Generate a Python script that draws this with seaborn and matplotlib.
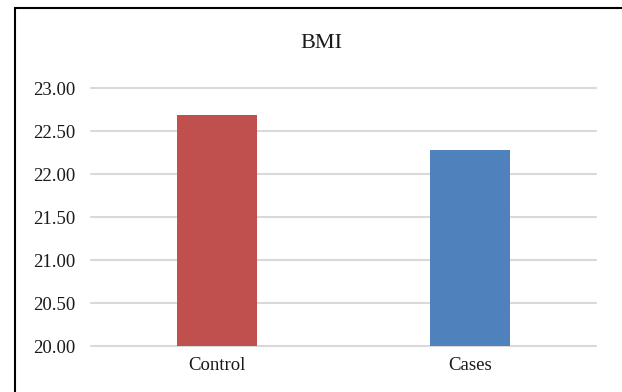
import matplotlib
matplotlib.use("Agg")
import matplotlib.pyplot as plt
import seaborn as sns
import pandas as pd
from matplotlib.patches import Rectangle

# data
groups = ["Control", "Cases"]
bmi = [22.69, 22.28]
bar_colors = ["#C0504D", "#4F81BD"]
y_ticks = [20.0, 20.5, 21.0, 21.5, 22.0, 22.5, 23.0]

sns.set_style("white")
plt.rcParams["font.family"] = ["Liberation Serif", "DejaVu Serif"]

df = pd.DataFrame({"group": groups, "bmi": bmi})

fig = plt.figure(figsize=(6.22, 3.92), dpi=100)
ax = fig.add_axes([0.1463, 0.1173, 0.8119, 0.6582])

sns.barplot(data=df, x="group", y="bmi", hue="group", palette=bar_colors,
            width=0.317, legend=False, saturation=1, linewidth=0, ax=ax, zorder=3)

ax.set_ylim(20, 23)
ax.set_yticks(y_ticks)
ax.set_yticklabels([f"{t:.2f}" for t in y_ticks])
ax.yaxis.grid(True, color="#D9D9D9", linewidth=1.5, zorder=0)
for gl in ax.get_ygridlines():
    gl.set_clip_on(False)
ax.set_axisbelow(True)
ax.set_xlabel("")
ax.set_ylabel("")
for s in ax.spines.values():
    s.set_visible(False)
ax.tick_params(axis="y", length=0, pad=11, labelsize=13.5, labelcolor="#1a1a1a")
ax.tick_params(axis="x", length=0, pad=8, labelsize=13.5, labelcolor="#1a1a1a")

fig.text(321 / 622, 1 - 43.5 / 392, "BMI", ha="center", va="center", fontsize=16,
         color="#1a1a1a")

# chart frame (right and bottom edges are cut off in the reference)
fig.patches.append(Rectangle((14.5 / 622, -0.1), 1.2, 1 - 8.5 / 392 + 0.1,
                             transform=fig.transFigure, fill=False,
                             edgecolor="black", linewidth=1.5))

fig.savefig("out.png", dpi=100)
